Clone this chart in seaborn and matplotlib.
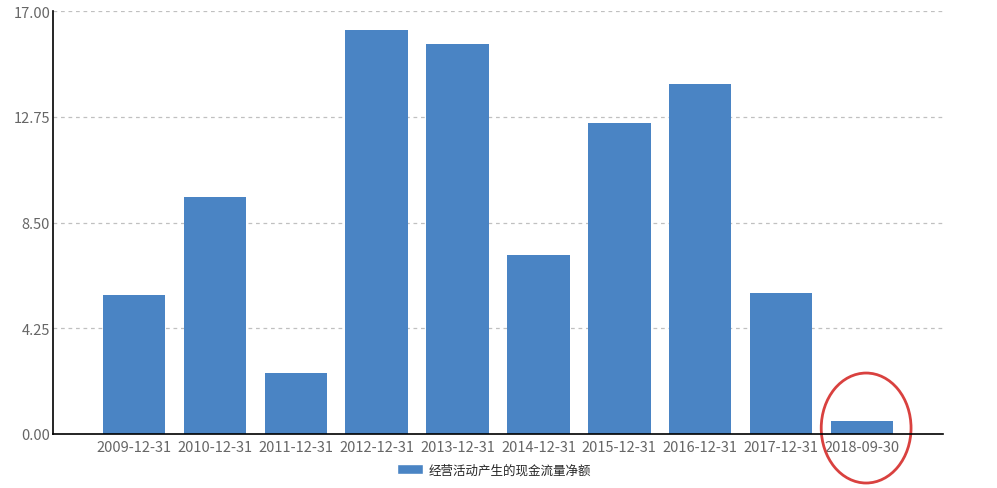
import pandas as pd
import matplotlib.pyplot as plt
import seaborn as sns
from matplotlib.patches import Ellipse, Patch

dates = ['2009-12-31', '2010-12-31', '2011-12-31', '2012-12-31', '2013-12-31',
         '2014-12-31', '2015-12-31', '2016-12-31', '2017-12-31', '2018-09-30']
cash_flow = [5.59, 9.53, 2.45, 16.25, 15.69, 7.20, 12.51, 14.08, 5.67, 0.52]
series_name = '经营活动产生的现金流量净额'
y_ticks = [0.00, 4.25, 8.50, 12.75, 17.00]

df = pd.DataFrame({'date': dates, 'value': cash_flow})

sns.set_style('white')
plt.rcParams['font.family'] = ['Noto Sans CJK SC', 'DejaVu Sans']

bar_color = '#4a84c4'
fig = plt.figure(figsize=(9.97, 4.89), dpi=100)
ax = fig.add_axes([53 / 997, 1 - 435 / 489, (943 - 53) / 997, (435 - 12) / 489])

sns.barplot(data=df, x='date', y='value', color=bar_color, saturation=1,
            width=0.77, linewidth=0, ax=ax)

ax.set_xlim(-1, 10)
ax.set_ylim(0, 17)
ax.set_yticks(y_ticks)
ax.set_yticklabels([f'{v:.2f}' for v in y_ticks])
ax.set_xlabel('')
ax.set_ylabel('')
ax.yaxis.grid(True, linestyle=(0, (3, 3)), color='#c0c0c0', linewidth=0.9)
ax.set_axisbelow(True)
ax.tick_params(axis='both', length=0, labelsize=10.5, labelcolor='#666666', pad=2)
ax.tick_params(axis='x', pad=4)

for side in ['top', 'right']:
    ax.spines[side].set_visible(False)
for side in ['left', 'bottom']:
    ax.spines[side].set_color('black')
    ax.spines[side].set_linewidth(1.2)

# red circle marking the last period
ax.add_patch(Ellipse((9.05, 0.24), width=1.11, height=4.42, fill=False,
                     edgecolor='#d9413f', linewidth=2, clip_on=False))

fig.legend(handles=[Patch(facecolor=bar_color, label=series_name)],
           loc='center', bbox_to_anchor=(494 / 997, 1 - 471 / 489),
           frameon=False, fontsize=9, handlelength=2.1, handleheight=0.9,
           handletextpad=0.4)

fig.savefig('out.png', dpi=100)
